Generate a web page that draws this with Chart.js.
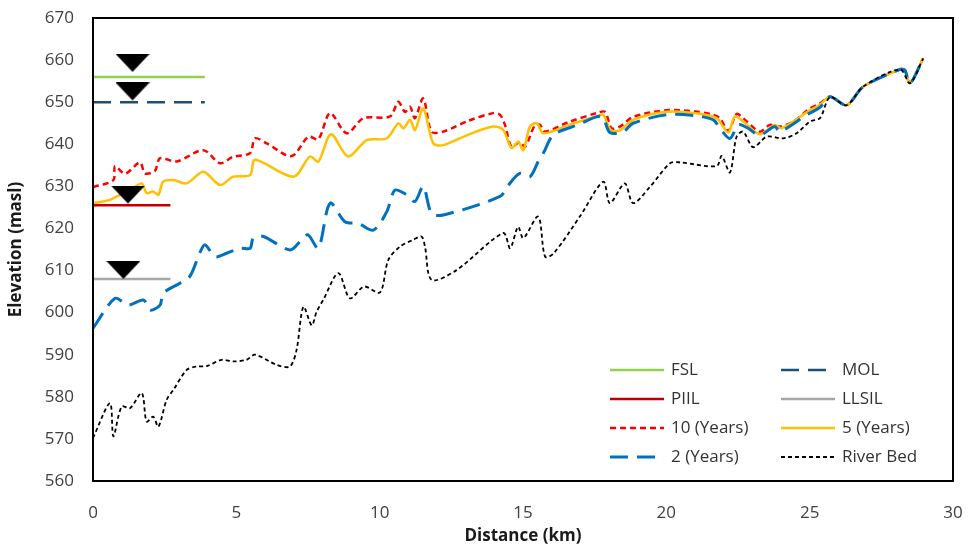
<!DOCTYPE html>
<html>
<head>
<meta charset="utf-8">
<script src="https://cdn.jsdelivr.net/npm/chart.js@4/dist/chart.umd.min.js"></script>
<style>
  html, body { margin: 0; padding: 0; background: #fff; }
</style>
</head>
<body>
<canvas id="profileChart" width="968" height="546"></canvas>
<script>
// Reservoir levels (km, masl)
const fslLine   = [[0, 656], [3.9, 656]]
const molLine   = [[0, 650], [3.9, 650]]
const piilLine  = [[0, 625.5], [2.7, 625.5]]
const llsilLine = [[0, 608], [2.7, 608]]

// Level markers (triangle tip position)
const markerPoints = [[1.38, 657.2], [1.38, 650.4], [1.22, 625.9], [1.06, 608]]

// Water surface profiles (km, masl)
const tenYear = [[0,629.8],[0.71,631.5],[0.77,634.8],[1.12,633],[1.64,635.7],[1.81,633.1],[2.16,633.7],[2.34,636.7],[2.92,635.9],[3.85,638.6],[4.43,635.5],[4.88,637],[5.48,637.9],[5.65,641.4],[6.06,640.2],[6.93,637.2],[7.51,641.8],[7.86,641.2],[8.27,647.4],[8.85,642.6],[9.43,646.2],[10.36,646.6],[10.65,650.1],[10.88,647.7],[11.06,648.9],[11.23,646.2],[11.52,650.9],[11.81,643],[12.22,643],[13.1,645.6],[13.96,647.4],[14.2,647],[14.37,644.6],[14.6,639.4],[14.89,640.6],[15.07,639.4],[15.42,644.6],[15.59,644.6],[15.77,643],[16.6,645.3],[17.57,647.4],[17.86,647.7],[18.09,643.8],[18.38,644.2],[18.84,646.5],[20.01,648.1],[21,647.8],[21.64,647],[21.87,646.2],[22.16,643.2],[22.45,647.2],[22.68,646.2],[23.26,643],[23.61,644.6],[23.96,644.2],[24.43,645.4],[25.01,648.5],[25.36,649.7],[25.71,651.3],[26.29,649.3],[26.87,653.7],[28.15,657.8],[28.32,657.6],[28.5,654.5],[28.96,660.4]]

const fiveYear = [[0,626],[0.59,626.8],[0.94,628],[1.4,629.6],[1.7,630.7],[1.87,628.4],[2.1,628.8],[2.28,628],[2.45,631.1],[2.8,631.5],[3.27,630.7],[3.85,633.5],[4.43,630.3],[4.89,632.3],[5.48,632.7],[5.65,636.3],[6.99,632.3],[7.57,637.1],[7.86,635.9],[8.3,642.4],[8.9,637.1],[9.55,641],[10.25,641.4],[10.65,645],[10.83,643.8],[11.06,645.8],[11.23,643.4],[11.52,648.5],[11.87,640.2],[12.22,639.8],[13.1,642.3],[13.96,644.2],[14.31,643.4],[14.6,639.1],[14.83,640.6],[15.01,638.6],[15.24,644.2],[15.48,645],[15.71,642.6],[16.6,644.6],[17.57,646.6],[17.8,647],[18.06,643.4],[18.38,643.3],[18.84,645.8],[20.01,647.7],[21,647.4],[21.75,646.2],[22.16,642.8],[22.39,646.6],[22.68,645.4],[23.26,642.4],[23.78,644.6],[24.02,643.8],[25.01,648.1],[25.36,649.4],[25.71,651.3],[26.29,649.3],[26.87,653.7],[28.15,657.8],[28.32,657.6],[28.5,654.5],[28.96,660.4]]

const twoYear = [[0,596.3],[0.77,603.4],[1.23,601.8],[1.76,603],[1.99,600.6],[2.34,601.8],[2.45,604.6],[3.03,607],[3.38,608.6],[3.73,614.3],[3.91,616.1],[4.26,613.3],[4.66,614.1],[5.13,615.3],[5.48,615.3],[5.59,617.7],[5.94,618.1],[6.87,614.9],[7.28,617.3],[7.5,618.5],[7.86,615.3],[8.27,626],[8.79,621.6],[9.25,621.2],[9.78,619.6],[10.25,624],[10.53,629.1],[10.94,628],[11.23,626.4],[11.52,630],[11.81,623.6],[12.22,623.2],[14.2,627.6],[14.49,630.3],[14.89,633.1],[15.24,632.3],[15.53,635.9],[15.71,637.9],[16.06,642.2],[16.9,644.6],[17.74,646.6],[18.03,642.8],[18.5,643],[18.84,645],[20.01,647],[21,646.8],[21.64,645.8],[21.87,643.8],[22.22,641.4],[22.51,644.6],[22.8,644],[23.26,642.2],[23.78,644.2],[23.96,643],[24.9,647],[25.36,648.8],[25.71,651.3],[26.29,649.3],[26.87,653.7],[28.15,657.8],[28.32,657.6],[28.5,654.5],[28.96,660.4]]

const riverBed = [[0,570.2],[0.59,578.5],[0.71,570.6],[1.0,577.7],[1.29,577.3],[1.7,580.9],[1.87,574.1],[2.1,575.3],[2.28,572.9],[2.57,579.3],[2.8,581.6],[3.27,586.4],[3.62,587.2],[3.97,587.3],[4.49,588.8],[4.89,588.4],[5.36,588.8],[5.65,590],[6.41,587.6],[6.87,587.2],[7.1,591.1],[7.34,601.4],[7.63,597],[7.8,600.2],[8.03,603],[8.56,609.4],[8.96,603.4],[9.46,606.2],[10.01,604.8],[10.3,612.5],[10.71,615.7],[11.17,617.3],[11.46,618.1],[11.58,615.7],[11.81,607.8],[12.68,610.1],[14.31,618.9],[14.55,615.3],[14.83,620.4],[15.01,617.7],[15.53,622.8],[15.77,613.3],[16.06,614],[17.0,623],[17.8,631.1],[18.03,626],[18.55,630.7],[18.84,626],[19.43,629.9],[20.13,635.5],[20.48,635.7],[21.75,634.8],[21.93,637.2],[22.22,633.3],[22.45,641.8],[22.68,643],[23.03,639.3],[23.5,641.8],[24.08,641.4],[24.54,642.6],[25.01,645.4],[25.36,646.2],[25.71,651.2],[26.29,649.3],[26.87,653.7],[28.15,657.8],[28.5,654.5],[28.96,660.4]]

const xTicks = { min: 0, max: 30, step: 5 }
const yTicks = { min: 560, max: 670, step: 10 }

// legend layout: two columns, four rows
const legendOrder = [['FSL', 'MOL'], ['PIIL', 'LLSIL'], ['10 (Years)', '5 (Years)'], ['2 (Years)', 'River Bed']]

const toXY = pts => pts.map(p => ({ x: p[0], y: p[1] }))

// flat inverted triangle, tip sits at the image centre
function makeTriangle() {
  const c = document.createElement('canvas')
  c.width = 34
  c.height = 36
  const g = c.getContext('2d')
  g.fillStyle = '#000'
  g.beginPath()
  g.moveTo(0, 0)
  g.lineTo(34, 0)
  g.lineTo(17, 18)
  g.closePath()
  g.fill()
  return c
}

function lineSet(label, pts, color, width, dash, tension) {
  return {
    label: label,
    data: toXY(pts),
    borderColor: color,
    backgroundColor: color,
    borderWidth: width,
    borderDash: dash,
    pointRadius: 0,
    tension: tension,
    fill: false
  }
}

const boxAndLegend = {
  id: 'boxAndLegend',
  afterDatasetsDraw(chart) {
    const { ctx, chartArea } = chart
    ctx.save()
    ctx.strokeStyle = '#000'
    ctx.lineWidth = 2
    ctx.setLineDash([])
    ctx.strokeRect(chartArea.left, chartArea.top, chartArea.right - chartArea.left, chartArea.bottom - chartArea.top)

    const colX = [610, 781]
    const rowY = [370, 399, 428, 457]
    const lineLen = 54
    ctx.font = '17px "Open Sans"'
    ctx.textBaseline = 'middle'
    ctx.fillStyle = '#333'
    legendOrder.forEach((row, r) => {
      row.forEach((label, c) => {
        const ds = chart.data.datasets.find(d => d.label === label)
        if (!ds) return
        const x = colX[c]
        const y = rowY[r]
        ctx.beginPath()
        ctx.strokeStyle = ds.borderColor
        ctx.lineWidth = ds.borderWidth
        ctx.setLineDash(ds.borderDash || [])
        ctx.moveTo(x, y)
        ctx.lineTo(x + lineLen, y)
        ctx.stroke()
        ctx.setLineDash([])
        ctx.fillText(label, x + lineLen + 7, y)
      })
    })
    ctx.restore()
  }
}

const triangle = makeTriangle()

new Chart(document.getElementById('profileChart'), {
  type: 'line',
  data: {
    datasets: [
      {
        label: 'markers',
        data: toXY(markerPoints),
        showLine: false,
        pointStyle: triangle,
        pointRadius: 10,
        pointHoverRadius: 10
      },
      lineSet('River Bed', riverBed, '#000000', 1.8, [4, 3], 0.3),
      lineSet('2 (Years)', twoYear, '#0070C0', 3, [18, 9], 0.3),
      lineSet('5 (Years)', fiveYear, '#FFC000', 2.5, [], 0.3),
      lineSet('10 (Years)', tenYear, '#FF0000', 2.5, [6, 4], 0.3),
      lineSet('LLSIL', llsilLine, '#A6A6A6', 2.5, [], 0),
      lineSet('PIIL', piilLine, '#C00000', 2.5, [], 0),
      lineSet('MOL', molLine, '#1F4E79', 2.5, [18, 9], 0),
      lineSet('FSL', fslLine, '#92D050', 2.5, [], 0)
    ]
  },
  options: {
    responsive: false,
    animation: false,
    layout: { padding: { top: 18, right: 15, bottom: 0, left: 0 } },
    plugins: {
      legend: { display: false },
      tooltip: { enabled: false }
    },
    scales: {
      x: {
        type: 'linear',
        min: xTicks.min,
        max: xTicks.max,
        afterFit: scale => {
          scale.height = 65
          scale.paddingLeft = 0
          scale.paddingRight = 0
        },
        grid: { display: false, drawTicks: false },
        border: { display: false },
        ticks: {
          stepSize: xTicks.step,
          padding: 22,
          color: '#404040',
          font: { family: 'Open Sans', size: 17 }
        },
        title: {
          display: true,
          text: 'Distance (km)',
          color: '#1a1a1a',
          padding: { top: 0, bottom: 0 },
          font: { family: 'Open Sans', size: 17, weight: 'bold' }
        }
      },
      y: {
        min: yTicks.min,
        max: yTicks.max,
        afterFit: scale => {
          scale.width = 93
          scale.paddingTop = 0
          scale.paddingBottom = 0
        },
        grid: { display: false, drawTicks: false },
        border: { display: false },
        ticks: {
          stepSize: yTicks.step,
          padding: 19,
          color: '#404040',
          font: { family: 'Open Sans', size: 17 }
        },
        title: {
          display: true,
          text: 'Elevation (masl)',
          color: '#1a1a1a',
          padding: { top: 6, bottom: 0 },
          font: { family: 'Open Sans', size: 17, weight: 'bold' }
        }
      }
    }
  },
  plugins: [boxAndLegend]
})
</script>
</body>
</html>
